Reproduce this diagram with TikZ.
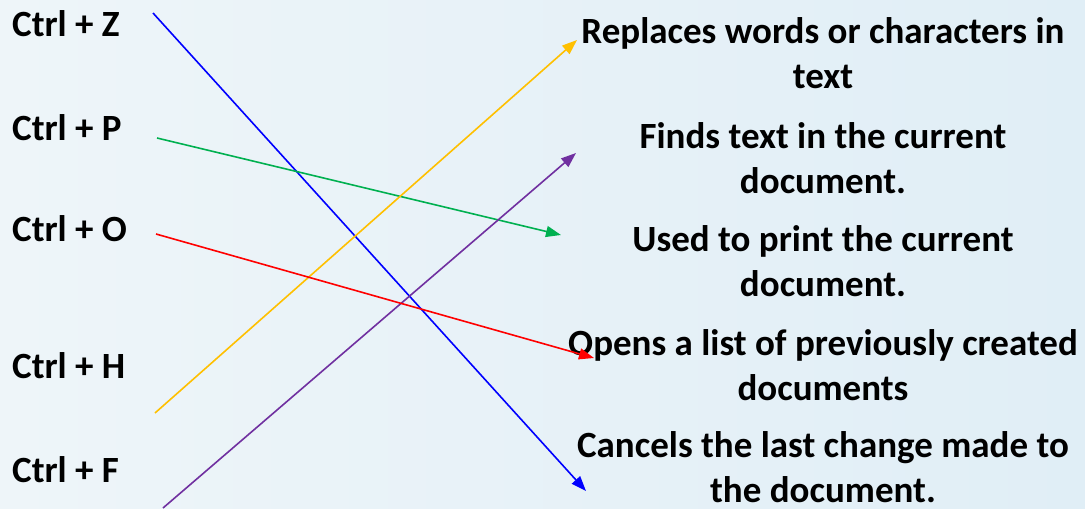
\documentclass[tikz,border=0pt]{standalone}
\usepackage{fontspec}
\setmainfont{Carlito}
\usetikzlibrary{arrows.meta}
\definecolor{bgL}{RGB}{238,245,249}
\definecolor{bgR}{RGB}{224,238,246}
\definecolor{lnBlue}{RGB}{0,0,255}
\definecolor{lnGreen}{RGB}{0,176,80}
\definecolor{lnRed}{RGB}{255,0,0}
\definecolor{lnGold}{RGB}{255,192,0}
\definecolor{lnPurple}{RGB}{112,48,160}

\begin{document}
\begin{tikzpicture}[
  x=1pt,y=-1pt,
  key/.style={anchor=base west,inner sep=0pt,font=\fontsize{37}{45}\selectfont\bfseries},
  desc/.style={anchor=base,inner sep=0pt,align=center,font=\fontsize{37}{45}\selectfont\bfseries},
  link/.style={line width=1.6pt,-{Triangle[length=15pt,width=11pt]}}]
% background
\shade[left color=bgL,right color=bgR] (0,0) rectangle (1085,509);
\useasboundingbox (0,0) rectangle (1085,509);
% shortcuts
\node[key] (kz) at (12,36)  {Ctrl + Z};
\node[key] (kp) at (12,140) {Ctrl + P};
\node[key] (ko) at (12,241) {Ctrl + O};
\node[key] (kh) at (12,378) {Ctrl + H};
\node[key] (kf) at (12,482) {Ctrl + F};
% meanings (anchored on last line)
\node[desc] (dr) at (823,88)  {Replaces words or characters in\\text};
\node[desc] (df) at (823,193) {Finds text in the current\\document.};
\node[desc] (dp) at (823,296) {Used to print the current\\document.};
\node[desc] (do) at (823,400) {Opens a list of previously created\\documents};
\node[desc] (dc) at (823,502) {Cancels the last change made to\\the document.};
% line ends
\coordinate (z0) at (153,13);  \coordinate (z1) at (586,491);
\coordinate (p0) at (157,138); \coordinate (p1) at (561,235);
\coordinate (o0) at (156,234); \coordinate (o1) at (594,358);
\coordinate (h0) at (155,413); \coordinate (h1) at (577,40);
\coordinate (f0) at (163,508); \coordinate (f1) at (576,153);
% matching arrows
\draw[link,lnBlue]   (z0) -- (z1);
\draw[link,lnGreen]  (p0) -- (p1);
\draw[link,lnGold]   (h0) -- (h1);
\draw[link,lnPurple] (f0) -- (f1);
\draw[link,lnRed]    (o0) -- (o1);
\end{tikzpicture}
\end{document}
